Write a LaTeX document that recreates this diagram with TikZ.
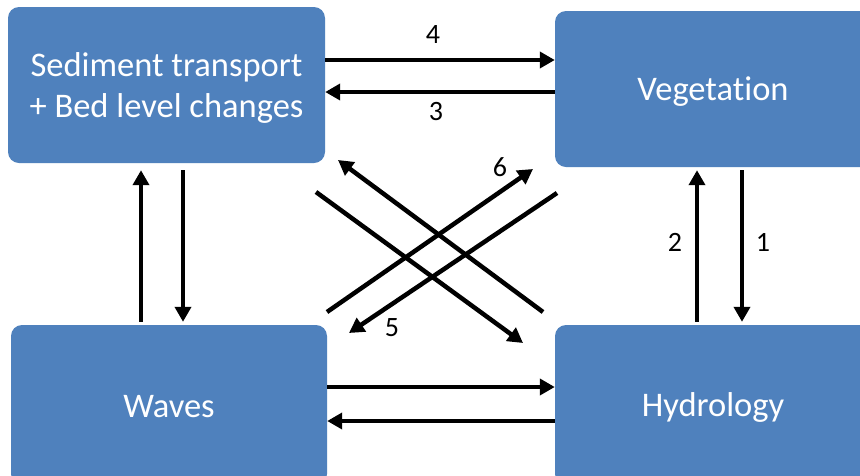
\documentclass[tikz,border=0pt]{standalone}
\usepackage{fontspec}
\setmainfont[Ligatures=NoCommon,RawFeature={-liga;-clig;-dlig}]{Carlito}
\usetikzlibrary{arrows.meta}
\definecolor{boxblue}{HTML}{4F81BD}
\tikzset{
  box/.style={draw=none, fill=boxblue, rounded corners=11pt, inner sep=0pt},
  txt/.style={text=white, align=center, font=\fontsize{34.5}{41}\selectfont, inner sep=0pt},
  arr/.style={line width=4.5pt, -{Triangle[length=15pt,width=16pt]}},
  num/.style={font=\fontsize{28}{30}\selectfont, inner sep=0pt}
}
\begin{document}
\begin{tikzpicture}[x=1pt,y=-1pt]
\useasboundingbox (0,0) rectangle (860,475);
\clip (0,0) rectangle (860,475);
\fill[white] (0,0) rectangle (860,475);
\node[box, minimum width=317pt, minimum height=156pt] (sed) at (166.5,85) {};
\node[box, minimum width=316pt, minimum height=156pt] (veg) at (713,89) {};
\node[box, minimum width=316pt, minimum height=160pt] (wav) at (169,405) {};
\node[box, minimum width=316pt, minimum height=160pt] (hyd) at (713,405) {};
\node[txt] (sedt) at ([yshift=-3pt]sed.center) {Sediment transport\\+ Bed level changes};
\node[txt] (vegt) at ([yshift=-3pt]veg.center) {Vegetat\kern0pt ion};
\node[txt] (wavt) at ([yshift=-2pt]wav.center) {Waves};
\node[txt] (hydt) at ([yshift=-2pt]hyd.center) {Hydrology};
% top horizontal
\draw[arr] (sed.east |- 0,60) -- (veg.west |- 0,60);
\draw[arr] (veg.west |- 0,92) -- (sed.east |- 0,92);
% bottom horizontal
\draw[arr] (wav.east |- 0,387) -- (hyd.west |- 0,387);
\draw[arr] (hyd.west |- 0,421) -- (wav.east |- 0,421);
% left vertical
\draw[arr, shorten <=3pt, shorten >=7pt] (wav.north -| 141,0) -- (sed.south -| 141,0);
\draw[arr, shorten <=7pt, shorten >=3pt] (sed.south -| 183,0) -- (wav.north -| 183,0);
% right vertical
\draw[arr, shorten <=3pt, shorten >=3pt] (hyd.north -| 697,0) -- (veg.south -| 697,0);
\draw[arr, shorten <=3pt, shorten >=3pt] (veg.south -| 742,0) -- (hyd.north -| 742,0);
% diagonals
\coordinate (d1s) at (543,312); \coordinate (d1e) at (338,160);
\coordinate (d2s) at (316,192); \coordinate (d2e) at (523,343);
\coordinate (d3s) at (327,312); \coordinate (d3e) at (533,169);
\coordinate (d4s) at (557,193); \coordinate (d4e) at (349,333);
\draw[arr] (d1s) -- (d1e);
\draw[arr] (d2s) -- (d2e);
\draw[arr] (d3s) -- (d3e);
\draw[arr] (d4s) -- (d4e);
% labels
\node[num] (l4) at (433,35) {4};
\node[num] (l3) at (436,112) {3};
\node[num] (l2) at (675,242) {2};
\node[num] (l1) at (763,242) {1};
\node[num] (l6) at (500,167) {6};
\node[num] (l5) at (392,328) {5};
\end{tikzpicture}
\end{document}
